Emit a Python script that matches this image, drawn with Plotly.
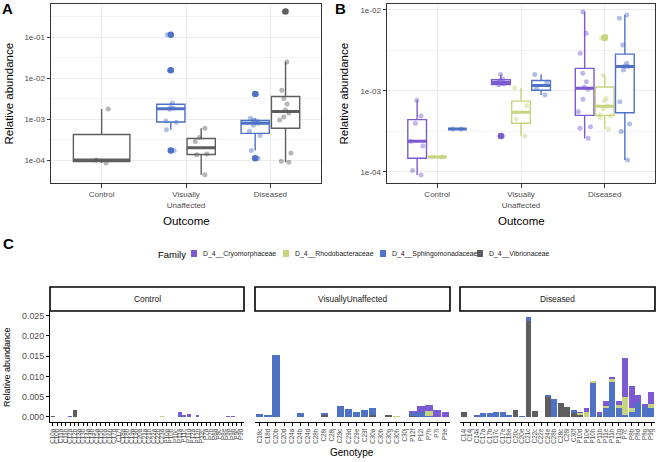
import numpy as np
import plotly.graph_objects as go

W, H = 658, 462
FONT = "Liberation Sans, Arial, sans-serif"

OUTCOMES = ["Control", "Visually Unaffected", "Diseased"]
OUTCOME_TICKS = ["Control", "Visually<br>Unaffected", "Diseased"]
FACET_LABELS = ["Control", "VisuallyUnaffected", "Diseased"]

FAMILIES = ["D_4__Cryomorphaceae", "D_4__Rhodobacteraceae",
            "D_4__Sphingomonadaceae", "D_4__Vibrionaceae"]
CRYO_COLOR = "#7B5AD3"
RHODO_COLOR = "#C6D47E"
SPHINGO_COLOR = "#4E72C6"
VIBRIO_COLOR = "#5E5E5E"

# Panel A - per-sample relative abundance (log scale)
A_VIBRIO_CONTROL = [8.5e-5, 1.0e-4, 1.75e-3]
A_SPHINGO_VU = [1.7e-4, 5.5e-4, 8.3e-4, 8.9e-4, 1.74e-3, 1.82e-3, 1.9e-3, 2.45e-3, 1.54e-2, 1.14e-1]
A_VIBRIO_VU = [4.4e-5, 1.35e-4, 1.41e-4, 2.85e-4, 3.55e-4, 6.0e-4]
A_SPHINGO_DIS = [1.1e-4, 1.72e-4, 3.98e-4, 5.0e-4, 7.1e-4, 7.9e-4, 8.5e-4, 8.9e-4, 9.5e-4, 1.05e-3, 4.07e-3]
A_VIBRIO_DIS = [8.8e-5, 9.3e-5, 1.48e-4, 9.5e-4, 1.12e-3, 1.41e-3, 1.66e-3, 2.32e-3, 3.16e-3, 5.0e-3, 2.45e-2, 0.42]

# Panel B
B_CRYO_CONTROL = [9.2e-5, 1.04e-4, 2.1e-4, 2.4e-4, 4.0e-4, 4.9e-4, 7.7e-4]
B_RHODO_CONTROL = [1.53e-4, 1.53e-4, 1.53e-4]
B_SPHINGO_CONTROL = [3.4e-4, 3.4e-4]
B_CRYO_VU = [2.78e-4, 1.19e-3, 1.22e-3, 1.27e-3, 1.35e-3, 1.4e-3, 1.6e-3]
B_RHODO_VU = [2.78e-4, 4.5e-4, 6.6e-4, 1.1e-3]
B_SPHINGO_VU = [8.9e-4, 1.07e-3, 1.27e-3, 1.6e-3]
B_CRYO_DIS = [2.6e-4, 3.46e-4, 3.63e-4, 5.56e-4, 7.9e-4, 1.05e-3, 1.11e-3, 1.3e-3, 1.65e-3, 2.92e-3, 5.15e-3, 9.5e-3]
B_RHODO_DIS = [3.4e-4, 4.7e-4, 4.9e-4, 5.1e-4, 6.0e-4, 6.5e-4, 7.6e-4, 8.1e-4, 1.55e-3, 4.5e-3, 4.6e-3]
B_SPHINGO_DIS = [1.41e-4, 3.15e-4, 3.92e-4, 7.38e-4, 1.82e-3, 2.0e-3, 2.04e-3, 2.2e-3, 3.7e-3, 7.9e-3, 8.7e-3]

LOG_TICKS = [-4, -3, -2, -1]
LOG_TICK_TEXT = ["1e-04", "1e-03", "1e-02", "1e-01"]

# Panel C - stacked relative abundance per genotype
CTRL_GENOTYPES = ["C10a", "C10b", "C11a", "C11b", "C12a", "C12b", "C13a", "C13b", "C14a", "C14b",
                  "C15a", "C15b", "C16a", "C16b", "C17d", "C17f", "C18a", "C18b", "C19a", "C19b",
                  "C20a", "C21a", "C21b", "C22a", "C22b", "C23a", "P10a", "P10b", "P10c", "P11a",
                  "P11c", "P11d", "P12a", "P12b", "P12c", "P7a", "P7b", "P8a", "P8c", "P8e",
                  "P9a", "P9b", "P9c", "P9d"]
CTRL_VIBRIO = [1e-4, 0, 0, 0, 0, 1.75e-3, 0, 0, 0, 0, 0, 0, 0, 0, 0, 0, 0, 0, 0, 0, 0, 0,
               0, 0, 0, 0, 0, 0, 0, 0, 0, 0, 0, 0, 0, 0, 0, 0, 0, 0, 0, 0, 0, 0]
CTRL_SPHINGO = [0, 0, 0, 0, 1e-4, 0, 0, 0, 0, 0, 0, 0, 0, 0, 0, 0, 0, 0, 0, 0, 0, 0,
                0, 0, 0, 0, 0, 0, 0, 4e-4, 0, 2e-4, 0, 0, 0, 0, 0, 0, 0, 0, 0, 0, 0, 0]
CTRL_RHODO = [0, 0, 0, 0, 0, 0, 0, 0, 0, 0, 0, 0, 0, 0, 0, 0, 0, 0, 0, 0, 0, 0,
              0, 0, 0, 1e-4, 0, 0, 0, 0, 0, 0, 0, 0, 0, 0, 0, 0, 0, 0, 0, 0, 0, 0]
CTRL_CRYO = [0, 0, 0, 0, 0, 0, 0, 0, 0, 0, 0, 0, 0, 0, 0, 0, 0, 0, 0, 0, 0, 0,
             0, 0, 0, 0, 0, 0, 0, 8e-4, 3e-4, 5e-4, 0, 4e-4, 0, 0, 0, 0, 0, 0, 2e-4, 2e-4, 0, 0]

VU_GENOTYPES = ["C18c", "C18d", "C20b", "C20d", "C24a", "C24b", "C24d", "C28h", "C28i", "C28j",
                "C29c", "C29d", "C29e", "C29f", "C30a", "C30b", "C30g", "C30h", "C30j", "P12f",
                "P12i", "P7h", "P7i", "P9e"]
VU_VIBRIO = [0, 0, 0, 0, 0, 0, 0, 0, 7e-4, 0, 0, 0, 0, 0, 5e-4, 0, 3e-4, 0, 0, 2e-4, 0, 0, 0, 0]
VU_SPHINGO = [8e-4, 5e-4, 1.54e-2, 0, 0, 1.0e-3, 0, 0, 1e-4, 0, 2.6e-3, 1.9e-3, 1.1e-3, 1.8e-3,
              1.8e-3, 0, 0, 0, 0, 9e-4, 1.2e-3, 3e-4, 0, 0]
VU_RHODO = [0, 0, 0, 0, 0, 0, 0, 0, 0, 0, 0, 0, 0, 0, 0, 0, 0, 2e-4, 0, 0, 0, 1.1e-3, 0, 0]
VU_CRYO = [0, 0, 0, 0, 0, 0, 0, 0, 0, 0, 0, 0, 0, 0, 0, 0, 0, 0, 0, 2e-4, 1.5e-3, 1.5e-3, 1.6e-3, 1.3e-3]

DIS_GENOTYPES = ["C14i", "C14j", "C14k", "C17a", "C17b", "C17c", "C17e", "C18e", "C20c", "C20e",
                 "C21c", "C22c", "C22e", "C24e", "C28b", "C28c", "C28i", "C30f", "P10d", "P10e",
                 "P10h", "P11b", "P11e", "P11h", "P12g", "P7c", "P8b", "P8d", "P8g", "P9g"]
DIS_VIBRIO = [1.1e-3, 0, 0, 0, 0, 0, 0, 0, 1.7e-3, 0, 2.38e-2, 1.4e-3, 0, 5.1e-3, 0, 3.5e-3,
              2.5e-3, 1.0e-3, 5e-4, 0, 0, 2e-4, 0, 0, 0, 0, 0, 0, 0, 0]
DIS_SPHINGO = [0, 0, 3e-4, 9e-4, 1.0e-3, 1.1e-3, 1.2e-3, 4e-4, 0, 2e-4, 9e-4, 0, 0, 2e-4, 4.4e-3,
               0, 0, 7e-4, 1e-4, 0, 8.6e-3, 5e-4, 2.2e-3, 8.7e-3, 2.2e-3, 5e-4, 1.1e-3, 3.6e-3,
               2.9e-3, 2.2e-3]
DIS_RHODO = [0, 0, 0, 0, 0, 0, 0, 0, 0, 0, 0, 0, 0, 0, 0, 0, 0, 0, 4e-4, 1.2e-3, 3e-4, 0, 6e-4,
             8e-4, 7e-4, 4.3e-3, 1.2e-3, 0, 0, 1.0e-3]
DIS_CRYO = [0, 0, 0, 0, 0, 0, 0, 0, 0, 0, 0, 0, 0, 0, 0, 0, 0, 0, 1e-4, 1.1e-3, 0, 4e-4, 1.1e-3,
            3e-4, 1.1e-3, 9.8e-3, 5.4e-3, 1.9e-3, 3e-4, 3.0e-3]


def px(x):
    return x / W


def py(y):
    return 1 - y / H


def box_stats(values):
    # ggplot computes the box on the transformed (log10) scale, type-7 quantiles
    logs = np.log10(np.asarray(values, dtype=float))
    q1, med, q3 = np.percentile(logs, [25, 50, 75])
    iqr = q3 - q1
    lo, hi = q1 - 1.5 * iqr - 1e-9, q3 + 1.5 * iqr + 1e-9
    inside = logs[(logs >= lo) & (logs <= hi)]
    outliers = logs[(logs < lo) | (logs > hi)]
    stats = dict(q1=[q1], median=[med], q3=[q3],
                 lowerfence=[inside.min()], upperfence=[inside.max()])
    return logs, stats, outliers


def add_box_group(fig, xa, ya, outcome, values, color, align, offset, jitter):
    logs, stats, outliers = box_stats(values)
    common = dict(xaxis=xa, yaxis=ya, alignmentgroup=align, offsetgroup=offset,
                  orientation="v", showlegend=False, hoverinfo="skip")
    clear = "rgba(0,0,0,0)"
    fig.add_trace(go.Box(x=[outcome], **stats, fillcolor="white",
                         line=dict(color=color, width=1.4), whiskerwidth=0,
                         boxpoints=False, **common))
    med = stats["median"]
    fig.add_trace(go.Box(x=[outcome], q1=med, median=med, q3=med, lowerfence=med,
                         upperfence=med, fillcolor=clear, line=dict(color=color, width=3),
                         whiskerwidth=0, boxpoints=False, **common))
    if len(outliers):
        fig.add_trace(go.Box(x=[outcome] * len(outliers), y=outliers, boxpoints="all",
                             jitter=0, pointpos=0, fillcolor=clear,
                             line=dict(color=clear, width=0),
                             marker=dict(color=color, size=6.5), **common))
    fig.add_trace(go.Box(x=[outcome] * len(logs), y=logs, boxpoints="all", jitter=jitter,
                         pointpos=0, fillcolor=clear, line=dict(color=clear, width=0),
                         marker=dict(color=color, size=5, opacity=0.45), **common))


fig = go.Figure()

# ---- Panel A ----
add_box_group(fig, "x", "y", "Visually Unaffected", A_SPHINGO_VU, SPHINGO_COLOR, "A", "sph", 0.5)
add_box_group(fig, "x", "y", "Visually Unaffected", A_VIBRIO_VU, VIBRIO_COLOR, "A", "vib", 0.5)
add_box_group(fig, "x", "y", "Diseased", A_SPHINGO_DIS, SPHINGO_COLOR, "A", "sph", 0.5)
add_box_group(fig, "x", "y", "Diseased", A_VIBRIO_DIS, VIBRIO_COLOR, "A", "vib", 0.5)
add_box_group(fig, "x", "y", "Control", A_VIBRIO_CONTROL, VIBRIO_COLOR, "A0", "vib", 0.3)

# ---- Panel B ----
for outcome, cryo, rhodo, sph in [("Control", B_CRYO_CONTROL, B_RHODO_CONTROL, B_SPHINGO_CONTROL),
                                  ("Visually Unaffected", B_CRYO_VU, B_RHODO_VU, B_SPHINGO_VU),
                                  ("Diseased", B_CRYO_DIS, B_RHODO_DIS, B_SPHINGO_DIS)]:
    add_box_group(fig, "x2", "y2", outcome, cryo, CRYO_COLOR, "B", "cryo", 0.8)
    add_box_group(fig, "x2", "y2", outcome, rhodo, RHODO_COLOR, "B", "rhodo", 0.8)
    add_box_group(fig, "x2", "y2", outcome, sph, SPHINGO_COLOR, "B", "sph", 0.8)

# ---- Panel C ----
facets = [
    ("x3", CTRL_GENOTYPES, CTRL_VIBRIO, CTRL_SPHINGO, CTRL_RHODO, CTRL_CRYO),
    ("x4", VU_GENOTYPES, VU_VIBRIO, VU_SPHINGO, VU_RHODO, VU_CRYO),
    ("x5", DIS_GENOTYPES, DIS_VIBRIO, DIS_SPHINGO, DIS_RHODO, DIS_CRYO),
]
for xa, genos, vib, sph, rho, cry in facets:
    # stack bottom-up: Vibrio, Sphingo, Rhodo, Cryo (ggplot puts first level on top)
    for vals, color in [(vib, VIBRIO_COLOR), (sph, SPHINGO_COLOR), (rho, RHODO_COLOR), (cry, CRYO_COLOR)]:
        fig.add_trace(go.Bar(x=genos, y=vals, marker=dict(color=color, line=dict(width=0)),
                             xaxis=xa, yaxis="y3", showlegend=False, hoverinfo="skip"))

grid = "#EBEBEB"
border = "#333333"
tickfont = dict(family=FONT, size=8, color="#4D4D4D")


def outcome_xaxis(x0, x1, anchor):
    return dict(domain=[px(x0), px(x1)], anchor=anchor, type="category",
                categoryorder="array", categoryarray=OUTCOMES, range=[-0.6, 2.6],
                tickmode="array", tickvals=OUTCOMES, ticktext=OUTCOME_TICKS,
                showline=True, mirror=True, linecolor=border, linewidth=1,
                showgrid=True, gridcolor=grid, gridwidth=1, zeroline=False,
                ticks="outside", ticklen=3.5, tickwidth=1, tickcolor=border, tickfont=tickfont)


def log_yaxis(anchor, rng):
    lo, hi = rng
    minor = [v + 0.5 for v in range(-6, 1) if lo < v + 0.5 < hi]
    return dict(domain=[py(183), py(4)], anchor=anchor, range=list(rng),
                tickmode="array", tickvals=LOG_TICKS, ticktext=LOG_TICK_TEXT,
                showline=True, mirror=True, linecolor=border, linewidth=1,
                showgrid=True, gridcolor=grid, gridwidth=1, zeroline=False,
                minor=dict(tickmode="array", tickvals=minor, showgrid=True,
                           gridcolor="#F3F3F3", gridwidth=0.6, ticks=""),
                ticks="outside", ticklen=3.5, tickwidth=1, tickcolor=border, tickfont=tickfont)


def geno_xaxis(x0, x1, genos):
    return dict(domain=[px(x0), px(x1)], anchor="y3", type="category",
                categoryorder="array", categoryarray=genos, range=[-0.6, len(genos) - 0.4],
                tickmode="array", tickvals=genos, ticktext=genos, tickangle=-90,
                tickfont=dict(family=FONT, size=6.3, color="#4D4D4D"),
                showline=True, linecolor="black", linewidth=1.3, showgrid=False, zeroline=False,
                ticks="outside", ticklen=3, tickwidth=1.2, tickcolor="black")


fig.update_layout(
    width=W, height=H, margin=dict(l=0, r=0, t=0, b=0),
    paper_bgcolor="white", plot_bgcolor="white",
    font=dict(family=FONT, color="black"),
    boxmode="group", boxgap=0.28, boxgroupgap=0.07,
    barmode="stack", bargap=0.1,
    xaxis=outcome_xaxis(51, 321, "y"),
    yaxis=log_yaxis("x", (-4.56, -0.195)),
    xaxis2=outcome_xaxis(387, 655, "y2"),
    yaxis2=log_yaxis("x2", (-4.136, -1.926)),
    xaxis3=geno_xaxis(50, 244, CTRL_GENOTYPES),
    xaxis4=geno_xaxis(255, 450, VU_GENOTYPES),
    xaxis5=geno_xaxis(460, 655, DIS_GENOTYPES),
    yaxis3=dict(domain=[py(422), py(311)], anchor="x3", range=[-0.00125, 0.02615],
                tickmode="linear", tick0=0, dtick=0.005, tickformat=".3f",
                tickfont=dict(family=FONT, size=8.8, color="#4D4D4D"),
                showline=True, linecolor="black", linewidth=1.3, showgrid=False, zeroline=False,
                ticks="outside", ticklen=3, tickwidth=1.2, tickcolor="black"),
    showlegend=False,
)

annotations = []
shapes = []


def text(x, y, s, size, **kw):
    d = dict(x=px(x), y=py(y), xref="paper", yref="paper", text=s, showarrow=False,
             font=dict(family=FONT, size=size, color=kw.pop("color", "black")),
             xanchor=kw.pop("xanchor", "center"), yanchor=kw.pop("yanchor", "middle"))
    d.update(kw)
    annotations.append(d)


# panel tags
text(0, 9, "<b>A</b>", 15, xanchor="left")
text(333, 9, "<b>B</b>", 15, xanchor="left")
text(1, 243, "<b>C</b>", 15, xanchor="left")

# axis titles
text(9, 93.5, "Relative abundance", 11.5, textangle=-90)
text(186, 221, "Outcome", 11.5)
text(344, 93.5, "Relative abundance", 11.5, textangle=-90)
text(521, 221, "Outcome", 11.5)
text(7, 367, "Relative abundance", 9, textangle=-90)
text(352, 452, "Genotype", 10)

# facet strips
for (x0, x1), label in zip([(50, 244), (255, 450), (460, 655)], FACET_LABELS):
    shapes.append(dict(type="rect", xref="paper", yref="paper", x0=px(x0), x1=px(x1),
                       y0=py(311), y1=py(287), line=dict(color="black", width=1.6),
                       fillcolor="white"))
    text((x0 + x1) / 2, 299, label, 8.4, color="#1A1A1A")

# legend for panel C
text(156, 254, "Family", 9.5, xanchor="left")
for x0, name, color in zip([191, 283, 380, 477], FAMILIES,
                           [CRYO_COLOR, RHODO_COLOR, SPHINGO_COLOR, VIBRIO_COLOR]):
    shapes.append(dict(type="rect", xref="paper", yref="paper", x0=px(x0), x1=px(x0 + 6),
                       y0=py(257), y1=py(250), line=dict(width=0), fillcolor=color))
    text(x0 + 10, 253.5, name, 6.9, xanchor="left", color="#1A1A1A")

fig.update_layout(annotations=annotations, shapes=shapes)

# the default page adds an 8px body margin; drop it so the figure fills the window
fig.write_html("out.html", config={"displayModeBar": False},
               post_script="document.body.style.margin='0';")
